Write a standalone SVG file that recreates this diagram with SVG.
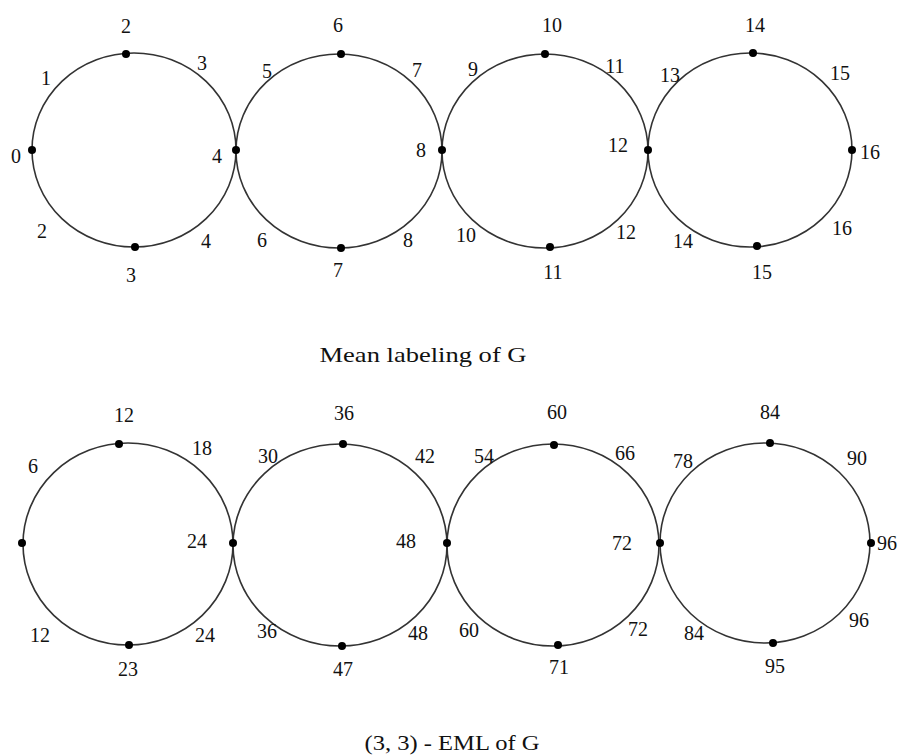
<svg xmlns="http://www.w3.org/2000/svg" width="901" height="755" viewBox="0 0 901 755">
<style>
.c{fill:none;stroke:#333;stroke-width:1.6}
.d{fill:#000}
text{font-family:"Liberation Serif","Times New Roman",serif;font-size:20px;fill:#111;text-anchor:middle}
.t{font-size:22px}
</style>
<rect width="901" height="755" fill="#fff"/>
<g id="connectors"></g>
<g id="top-row">
<g id="c1"><ellipse class="c" cx="134" cy="150" rx="102" ry="97"/></g>
<g id="c2"><ellipse class="c" cx="339" cy="151" rx="103" ry="97"/></g>
<g id="c3"><ellipse class="c" cx="545" cy="151" rx="103" ry="97"/></g>
<g id="c4"><ellipse class="c" cx="750" cy="150" rx="102" ry="97"/></g>
<g id="top-dots">
<circle class="d" cx="32" cy="150" r="4"/><circle class="d" cx="126" cy="54" r="4"/><circle class="d" cx="135" cy="247" r="4"/>
<circle class="d" cx="236" cy="150" r="4"/><circle class="d" cx="341" cy="54" r="4"/><circle class="d" cx="341" cy="248" r="4"/>
<circle class="d" cx="442" cy="150" r="4"/><circle class="d" cx="545" cy="54" r="4"/><circle class="d" cx="550" cy="247" r="4"/>
<circle class="d" cx="648" cy="150" r="4"/><circle class="d" cx="753" cy="53" r="4"/><circle class="d" cx="757" cy="246" r="4"/>
<circle class="d" cx="852" cy="150" r="4"/>
</g>
<g id="top-labels">
<text x="126" y="33">2</text><text x="46" y="85">1</text><text x="202" y="70">3</text>
<text x="16" y="163">0</text><text x="217" y="163">4</text><text x="42" y="238">2</text>
<text x="131" y="282">3</text><text x="206" y="248">4</text>
<text x="267" y="78">5</text><text x="338" y="32">6</text><text x="417" y="77">7</text>
<text x="421" y="157">8</text><text x="262" y="247">6</text><text x="338" y="277">7</text><text x="408" y="247">8</text>
<text x="552" y="32">10</text><text x="473" y="76">9</text><text x="615" y="73">11</text>
<text x="618" y="152">12</text><text x="466" y="242">10</text><text x="553" y="279">11</text><text x="626" y="239">12</text>
<text x="670" y="82">13</text><text x="755" y="32">14</text><text x="840" y="80">15</text>
<text x="870" y="159">16</text><text x="683" y="248">14</text><text x="762" y="279">15</text><text x="842" y="235">16</text>
</g>
<text class="t" x="423" y="362" textLength="207" lengthAdjust="spacingAndGlyphs">Mean labeling of  G</text>
</g>
<g id="bottom-row">
<g id="b1"><ellipse class="c" cx="128" cy="544" rx="105" ry="101"/></g>
<g id="b2"><ellipse class="c" cx="340" cy="545" rx="107" ry="101"/></g>
<g id="b3"><ellipse class="c" cx="553" cy="545" rx="106" ry="101"/></g>
<g id="b4"><ellipse class="c" cx="765" cy="543" rx="105" ry="100"/></g>
<g id="bottom-dots">
<circle class="d" cx="22" cy="543" r="4"/><circle class="d" cx="119" cy="444" r="4"/><circle class="d" cx="129" cy="645" r="4"/>
<circle class="d" cx="233" cy="543" r="4"/><circle class="d" cx="343" cy="444" r="4"/><circle class="d" cx="342" cy="646" r="4"/>
<circle class="d" cx="447" cy="543" r="4"/><circle class="d" cx="554" cy="445" r="4"/><circle class="d" cx="558" cy="645" r="4"/>
<circle class="d" cx="660" cy="543" r="4"/><circle class="d" cx="770" cy="443" r="4"/><circle class="d" cx="773" cy="643" r="4"/>
<circle class="d" cx="871" cy="543" r="4"/>
</g>
<g id="bottom-labels">
<text x="124" y="422">12</text><text x="33" y="473">6</text><text x="202" y="455">18</text>
<text x="197" y="548">24</text><text x="40" y="642">12</text><text x="128" y="676">23</text><text x="205" y="642">24</text>
<text x="268" y="463">30</text><text x="344" y="420">36</text><text x="425" y="463">42</text>
<text x="406" y="548">48</text><text x="267" y="638">36</text><text x="343" y="676">47</text><text x="418" y="640">48</text>
<text x="557" y="419">60</text><text x="484" y="463">54</text><text x="625" y="460">66</text>
<text x="622" y="550">72</text><text x="469" y="637">60</text><text x="559" y="674">71</text><text x="638" y="636">72</text>
<text x="683" y="468">78</text><text x="770" y="419">84</text><text x="857" y="465">90</text>
<text x="887" y="550">96</text><text x="694" y="640">84</text><text x="775" y="673">95</text><text x="859" y="627">96</text>
</g>
<text class="t" x="452" y="750" textLength="175" lengthAdjust="spacingAndGlyphs">(3, 3) - EML of G</text>
</g>
</svg>
